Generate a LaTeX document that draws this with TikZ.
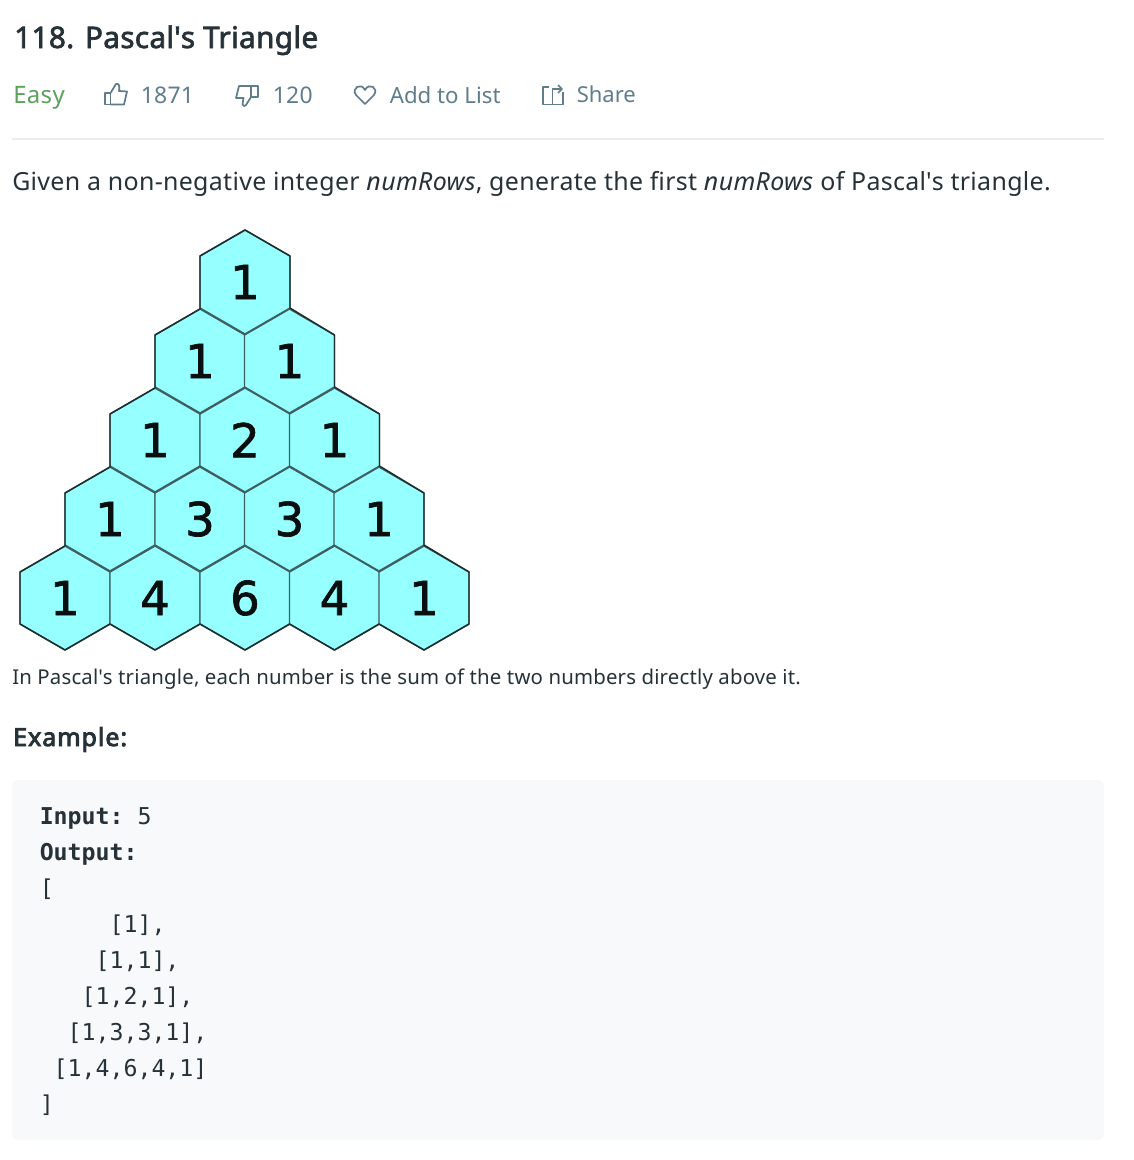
\documentclass[tikz,border=0pt]{standalone}
\usepackage{fontspec}
\setmainfont{Noto Sans}[Ligatures=NoCommon]
\setmonofont{DejaVu Sans Mono}
\newfontfamily\digitfont{DejaVu Sans}[FakeBold=1.5]
\newfontfamily\headfont{Noto Sans}[FakeBold=2.2,LetterSpace=1.1]
\newfontfamily\exfont{Noto Sans}[FakeBold=3.5,LetterSpace=4.0]
\newfontfamily\bodyfont{Noto Sans}[LetterSpace=1.3]
\newfontfamily\smallfont{Noto Sans}[LetterSpace=0.85]
\definecolor{ink}{HTML}{263238}
\definecolor{meta}{HTML}{607D8B}
\definecolor{easy}{HTML}{5CA15C}
\definecolor{rule}{HTML}{ECEDEE}
\definecolor{codebg}{HTML}{F7F9FA}
\definecolor{hexfill}{HTML}{96FFFF}
\definecolor{hexline}{HTML}{3E6060}
\definecolor{hexouter}{HTML}{1E2E2E}
\newcommand{\hexcell}[4]{%
  \fill[hexfill] (#2,#3-52) -- (#2+45,#3-26) -- (#2+45,#3+26) -- (#2,#3+52) -- (#2-45,#3+26) -- (#2-45,#3-26) -- cycle;
  \draw[hexedge] (#2,#3-52) -- (#2+45,#3-26) -- (#2+45,#3+26) -- (#2,#3+52) -- (#2-45,#3+26) -- (#2-45,#3-26) -- cycle;
  \coordinate (#1t) at (#2,#3-52);
  \coordinate (#1tr) at (#2+45,#3-26);
  \coordinate (#1br) at (#2+45,#3+26);
  \coordinate (#1b) at (#2,#3+52);
  \coordinate (#1bl) at (#2-45,#3+26);
  \coordinate (#1tl) at (#2-45,#3-26);
  \node[digit] (#1) at (#2,#3) {#4};}
\begin{document}
\begin{tikzpicture}[x=0.75pt,y=-0.75pt,
  hexedge/.style={draw=hexline,line width=1.1pt,line join=round},
  hexrim/.style={draw=hexouter,line width=1.1pt,line join=round},
  digit/.style={font=\digitfont\fontsize{35}{35}\selectfont,text=black!85!hexline,inner sep=0pt},
  title/.style={anchor=base west,inner sep=0pt,font=\headfont\fontsize{22.3}{24}\selectfont,text=ink},
  metatext/.style={anchor=base west,inner sep=0pt,font=\fontsize{17}{20}\selectfont,text=meta},
  body/.style={anchor=base west,inner sep=0pt,font=\bodyfont\fontsize{18.7}{22}\selectfont,text=ink},
  small/.style={anchor=base west,inner sep=0pt,font=\smallfont\fontsize{15.3}{18}\selectfont,text=ink},
  code/.style={anchor=base west,inner sep=0pt,font=\ttfamily\fontsize{17.4}{20}\selectfont,text=ink},
  icon/.style={draw=meta,line width=1.3pt,line join=round,fill=none}]
\useasboundingbox (0,0) rectangle (1134,1160);
\fill[white] (0,0) rectangle (1134,1160);
\node[title] (ttl) at (14,48) {118. Pascal\textquotesingle s Triangle};
\node[metatext,text=easy,font=\bodyfont\fontsize{18}{20}\selectfont] (easy) at (13,103) {Easy};
\draw[icon] (105,93) rectangle (110.5,104.5);
\draw[icon] (110.5,93) -- (116,84) .. controls (119,83) and (120,86) .. (119,91) -- (127,91.5) -- (124,104.5) -- (110.5,104.5);
\node[metatext,font=\bodyfont\fontsize{17.2}{20}\selectfont] (likes) at (140.5,103) {1871};
\draw[icon] (251,86) -- (258,86) -- (258,97) -- (251,97);
\draw[icon] (251,86) -- (239,86) -- (236,98) -- (243.5,98) -- (242.5,104.5) .. controls (243,106.5) and (245,106.5) .. (246,105) -- (251,97) -- cycle;
\node[metatext,font=\bodyfont\fontsize{17.2}{20}\selectfont] (dislikes) at (272.5,103) {120};
\draw[icon] (365,104) -- (356,95) .. controls (351,88) and (361,82) .. (365,90) .. controls (369,82) and (379,88) .. (374,95) -- cycle;
\node[metatext,font=\fontsize{16.7}{20}\selectfont] (add) at (389.5,103) {Add to List};
\draw[icon] (549,87) -- (543,87) -- (543,104.5) -- (563,104.5) -- (563,92);
\draw[icon] (552.5,104.5) -- (552.5,89) -- (561,89);
\draw[icon] (558,85) -- (562,89) -- (558,93);
\node[metatext,font=\fontsize{16.5}{20}\selectfont] (share) at (576.5,102.5) {Share};
\fill[rule] (12,138) rectangle (1104,140);
\node[body] (desc) at (12,190) {Given a non-negative integer \textit{numRows}, generate the first \textit{numRows} of Pascal\textquotesingle s triangle.};
\hexcell{a1}{245}{282}{1}
\hexcell{b1}{200}{361}{1}
\hexcell{b2}{289.5}{361}{1}
\hexcell{c1}{155}{440}{1}
\hexcell{c2}{245}{440}{2}
\hexcell{c3}{334.5}{440}{1}
\hexcell{d1}{110}{519}{1}
\hexcell{d2}{200}{519}{3}
\hexcell{d3}{289.5}{519}{3}
\hexcell{d4}{379}{519}{1}
\hexcell{e1}{65}{598}{1}
\hexcell{e2}{155}{598}{4}
\hexcell{e3}{245}{598}{6}
\hexcell{e4}{334.5}{598}{4}
\hexcell{e5}{424}{598}{1}
\draw[hexrim] (a1tl) -- (a1t) -- (a1tr) -- (a1br) -- (b2tr) -- (b2br) -- (c3tr) -- (c3br) -- (d4tr) -- (d4br) -- (e5tr) -- (e5br) -- (e5b) -- (e5bl) -- (e4b) -- (e4bl) -- (e3b) -- (e3bl) -- (e2b) -- (e2bl) -- (e1b) -- (e1bl) -- (e1tl) -- (e1t) -- (d1tl) -- (d1t) -- (c1tl) -- (c1t) -- (b1tl) -- (b1t) -- cycle;
\node[small] (note) at (12,684) {In Pascal\textquotesingle s triangle, each number is the sum of the two numbers directly above it.};
\node[body,font=\exfont\fontsize{18.7}{22}\selectfont] (ex) at (13,746) {Example:};
\fill[codebg,rounded corners=4pt] (12,780) rectangle (1104,1140);
\node[code] (c1t) at (39.5,824) {\textbf{Input:} 5};
\node[code] (c2t) at (39.5,860) {\textbf{Output:}};
\node[code] (c3t) at (39.5,896) {[};
\node[code] (c4t) at (39.5,932) {\ \ \ \ \ [1],};
\node[code] (c5t) at (39.5,968) {\ \ \ \ [1,1],};
\node[code] (c6t) at (39.5,1004) {\ \ \ [1,2,1],};
\node[code] (c7t) at (39.5,1040) {\ \ [1,3,3,1],};
\node[code] (c8t) at (39.5,1076) {\ [1,4,6,4,1]};
\node[code] (c9t) at (39.5,1112) {]};
\end{tikzpicture}
\end{document}
